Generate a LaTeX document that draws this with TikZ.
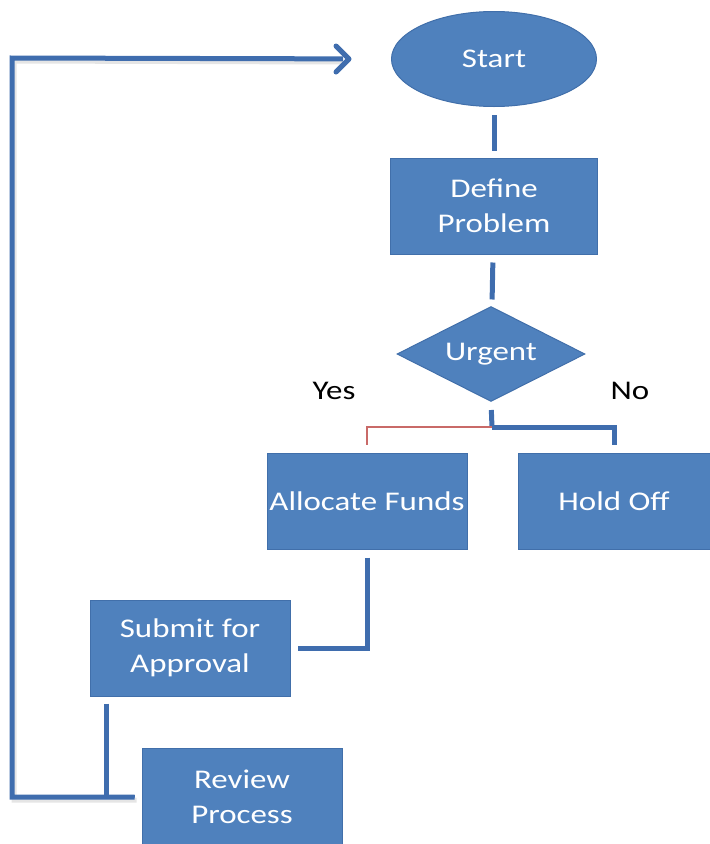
\documentclass[tikz,border=0pt]{standalone}
\usepackage{fontspec}
\setmainfont{Carlito}[FakeStretch=1.22]
\usetikzlibrary{arrows.meta,shapes.geometric,calc}
\definecolor{boxblue}{HTML}{4F81BD}
\definecolor{edgeblue}{HTML}{416FAA}
\definecolor{lineblue}{HTML}{3F6DAE}
\definecolor{yesred}{HTML}{C0504D}

\begin{document}
\begin{tikzpicture}[x=1pt,y=-1pt,box/.style={draw=edgeblue,line width=1pt,fill=boxblue,minimum width=200pt,minimum height=96pt,inner sep=0pt,align=center,text=white,font=\fontsize{27}{35}\selectfont},term/.style={box,ellipse,minimum width=205pt,minimum height=95pt},choice/.style={box,diamond,aspect=2,minimum width=188pt,minimum height=95pt},a/.style={draw=lineblue,line width=5pt},ayes/.style={draw=yesred!85,line width=1.3pt},lab/.style={font=\fontsize{27}{35}\selectfont}]
\useasboundingbox (0,0) rectangle (710,844);
\node[term] (start) at (494,59) {Start};
\node[box,minimum width=207pt] (define) at (494,206) {Define\\Problem};
\node[choice] (urgent) at (491,354) {Urgent};
\node[lab] (yes) at (334,391) {Yes};
\node[lab] (no) at (630,391) {No};
\node[box] (alloc) at (367,501) {Allocate Funds};
\node[box,minimum width=192pt] (hold) at (614,501) {Hold Off};
\node[box] (submit) at (190,648) {Submit for\\Approval};
\node[box,minimum height=98pt] (review) at (242,797) {Review\\Process};
\coordinate (fork) at (492,427);
\coordinate (corner) at (12,58);
\draw[a,shorten <=8pt,shorten >=7pt] (start)--(define);
\draw[a,shorten <=8pt,shorten >=7pt] (define)--(urgent);
\draw[a,shorten <=8pt] (urgent.south)--(fork);
\draw[ayes,shorten >=8pt] (fork)-|(alloc.north);
\draw[a,shorten >=8pt] (fork)-|(hold.north);
\draw[a,shorten <=8pt,shorten >=7pt] (alloc.south)|-(submit.east);
\draw[a,shorten <=7pt,shorten >=7pt] ($(submit.south west)+(17,0)$)|-(review.west);
% feedback loop back to start
\draw[draw=black!10,line width=5pt,shorten <=7pt,transform canvas={shift={(2pt,-3pt)}}] (review.west)-|(corner)--($(start.west)+(-50,0)$);
\draw[a,shorten <=7pt,shorten >=48pt] (review.west)-|(corner)--(start.west);
\draw[a,line cap=round,line join=round] ($(start.west)+(-55,-13)$)--($(start.west)+(-42,0)$)--($(start.west)+(-55,13)$);
\end{tikzpicture}
\end{document}
